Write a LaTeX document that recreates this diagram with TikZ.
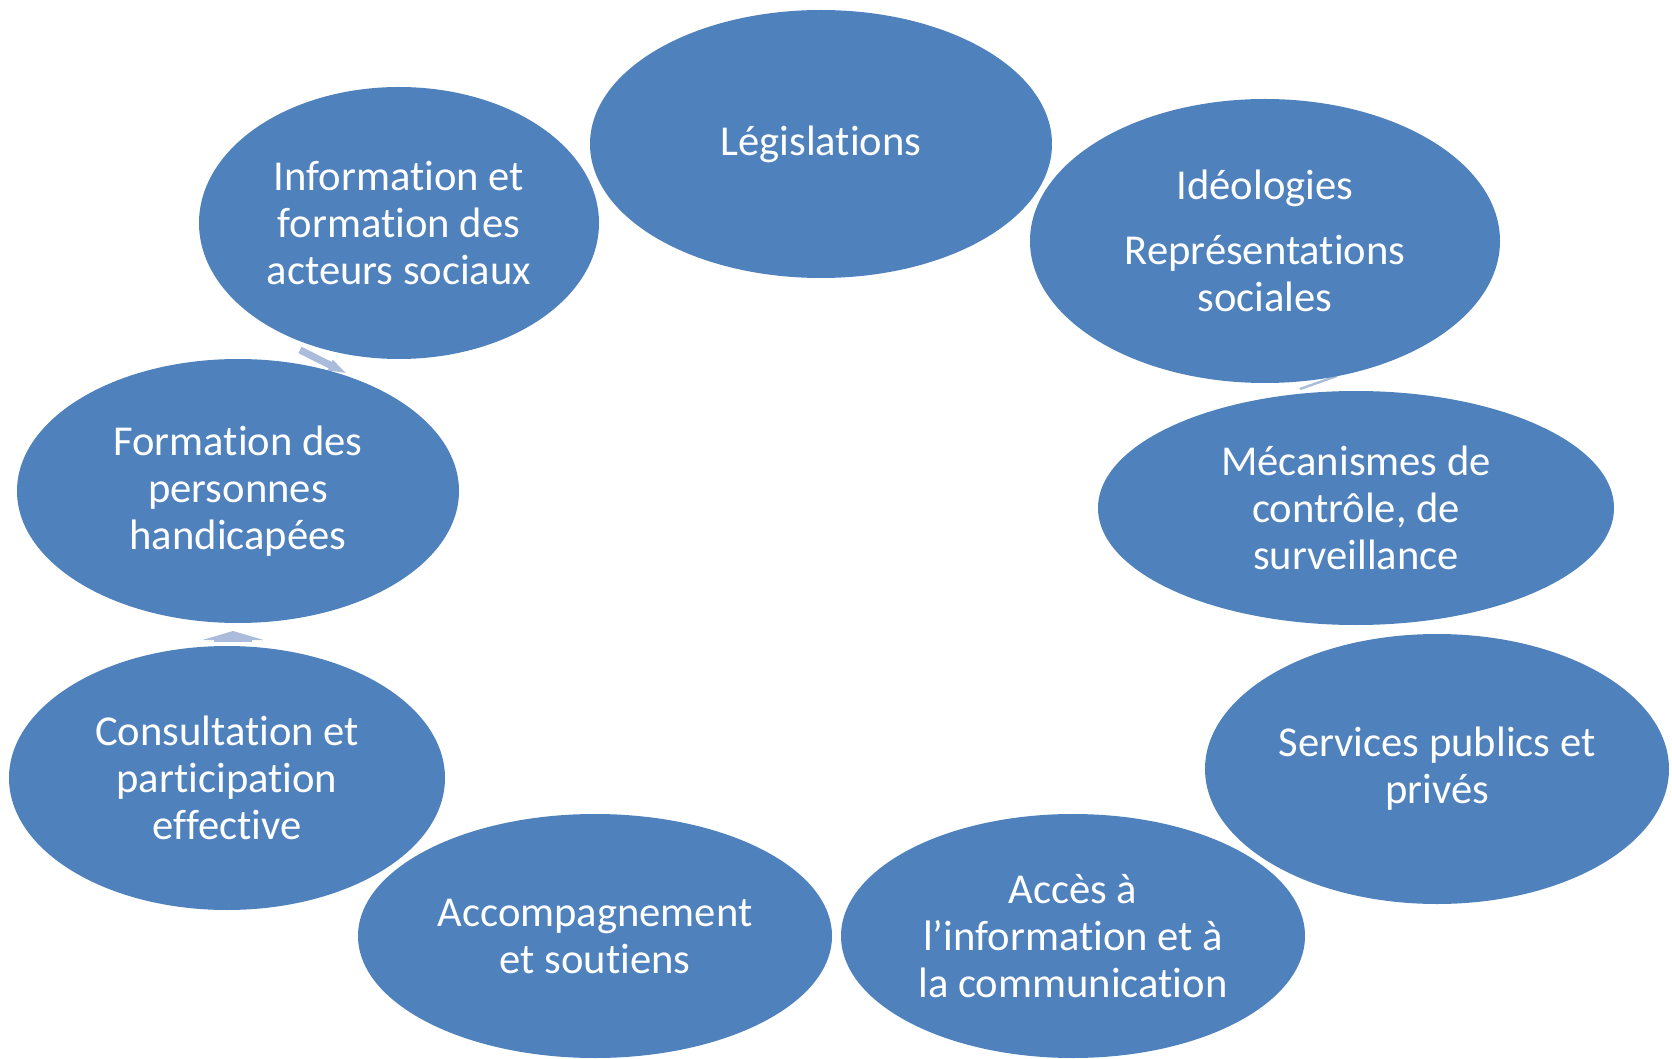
\documentclass[tikz,border=0pt]{standalone}
\usepackage{fontspec}
\setmainfont[Ligatures=NoCommon]{Carlito}
\usetikzlibrary{
  shapes.geometric, % Shape "ellipse"
  arrows.meta       % Tips "Triangle"
}
\definecolor{stageblue}{HTML}{4F81BD}
\definecolor{flowblue}{HTML}{AABBDB}
\tikzset{
  font=\fontsize{21.3}{23.5}\selectfont,
  stage/.style={
    ellipse,
    fill=stageblue,
    text=white,
    align=center,
    inner sep=0pt
  },
  size/.style 2 args={
    minimum width=#1pt,
    minimum height=#2pt
  },
  flow/.style={
    draw=flowblue,
    line width=3.5pt,
    -{Triangle[width=5pt,length=10pt]}
  }
}
\begin{document}
\begin{tikzpicture}[x=0.5pt,y=-0.5pt]
\useasboundingbox (0,0) rectangle (1672,1059);
% arrows of the cycle, mostly hidden by the stages
\coordinate (f1s) at (300,350);
\coordinate (f1e) at (348,374);
\coordinate (f2s) at (233,642);
\coordinate (f2e) at (233,631);
\coordinate (f3s) at (1300,389);
\coordinate (f3e) at (1337,376);
\draw[flow] (f1s) -- (f1e);
\draw[flow,line width=19pt,-{Triangle[width=30.5pt,length=4.5pt]}] (f2s) -- (f2e);
\draw[flow,line width=1.2pt,-] (f3s) -- (f3e);
% stages
\node[stage,size={231}{134}] (legis)   at (821,144)  {Législations};
\node[stage,size={235}{142}] (ideo)    at (1265,241) {Idéologies\\[9pt]Représentations\\sociales};
\node[stage,size={258}{117}] (meca)    at (1356,508) {Mécanismes de\\contrôle, de\\surveillance};
\node[stage,size={232}{135}] (serv)    at (1437,769) {Services publics et\\privés};
\node[stage,size={232}{122}] (acces)   at (1073,936) {Accès à\\l’information et à\\la communication};
\node[stage,size={237}{122}] (accomp)  at (595,936)  {Accompagnement\\et soutiens};
\node[stage,size={218}{132}] (consult) at (227,778)  {Consultation et\\participation\\effective};
\node[stage,size={221}{132}] (formpers) at (238,491) {Formation des\\personnes\\handicapées};
\node[stage,size={200}{136}] (info)    at (399,223)  {Information et\\formation des\\acteurs sociaux};
\end{tikzpicture}
\end{document}
